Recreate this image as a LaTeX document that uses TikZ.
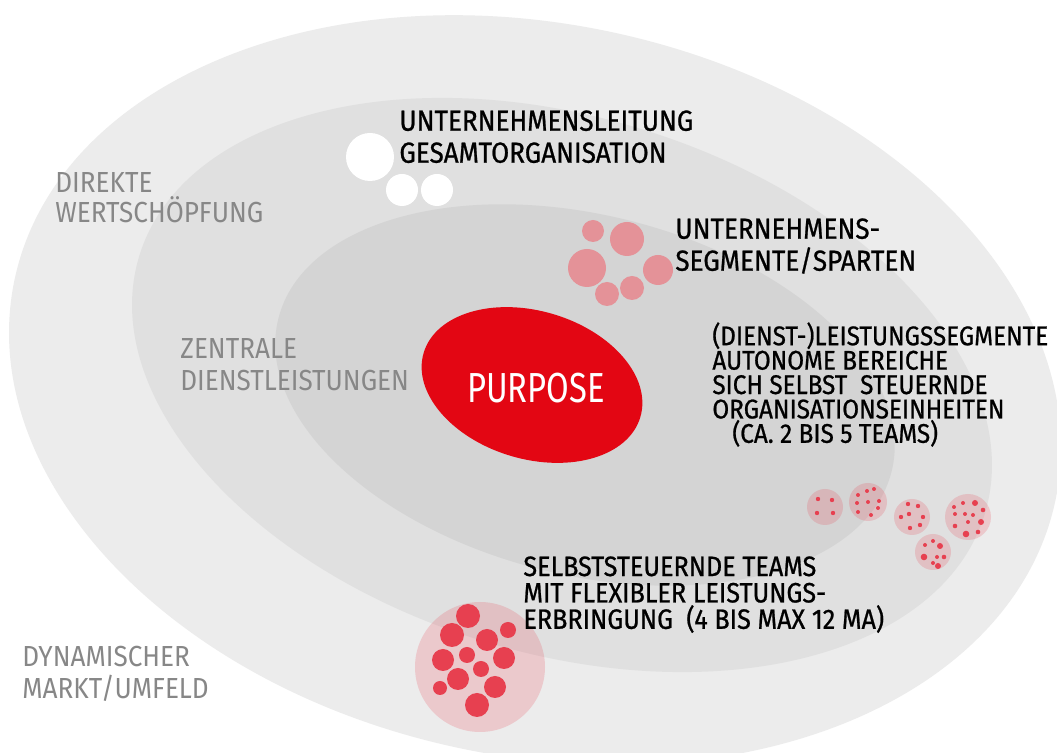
\documentclass[tikz,border=0pt]{standalone}
\usepackage{fontspec}
\setmainfont{Fira Sans}[FakeStretch=0.9]
\newfontfamily\markfont{Fira Sans}[FakeStretch=0.9,FakeBold=0.8]
\newfontfamily\purposefont{Fira Sans}[FakeStretch=0.78]
\definecolor{ringout}{RGB}{236,236,236}
\definecolor{ringmid}{RGB}{224,224,224}
\definecolor{ringin}{RGB}{212,212,212}
\definecolor{purposered}{RGB}{227,6,19}
\definecolor{segpink}{RGB}{228,146,152}
\definecolor{teamred}{RGB}{231,64,80}
\definecolor{labelgrey}{RGB}{135,135,135}
\newcommand\tightlines{\lineskiplimit-10pt\relax}

\begin{document}
\begin{tikzpicture}[x=0.5pt,y=-0.5pt,
  txt/.style={inner sep=0,anchor=north west,align=left,font=\markfont\fontsize{14.5}{16}\selectfont\tightlines},
  greytxt/.style={inner sep=0,anchor=north west,align=left,text=labelgrey,font=\fontsize{14.5}{16}\selectfont\tightlines},
  team/.style={fill=teamred,fill opacity=0.2}]
\useasboundingbox[fill=white] (0,0) rectangle (1057,753);
\fill[ringout,rotate around={-12:(535,390)}] (535,390) ellipse [x radius=532,y radius=366];
\fill[ringmid,rotate around={-17:(562,385)}] (562,385) ellipse [x radius=442,y radius=268];
\fill[ringin,rotate around={-14:(585,395)}] (585,395) ellipse [x radius=316,y radius=180];
\fill[purposered,rotate around={-16.5:(532,385)}] (532,385) ellipse [x radius=113,y radius=74];
\node[text=white,font=\purposefont\fontsize{21}{21}\selectfont] (purpose) at (536,388) {PURPOSE};

\foreach \x/\y/\r in {370/157/24,402/190/16,437/190/16}
  \fill[white] (\x,\y) circle [radius=\r];
\foreach \x/\y/\r in {593/231/11,627/239/17,587/268/19,658/270/15,607/294/12,632/288/12}
  \fill[segpink] (\x,\y) circle [radius=\r];

\foreach \x/\y/\r in {825/507/18,868/502/19,912/517/18,968/517/23,933/552/18,480/667/65}
  \fill[team] (\x,\y) circle [radius=\r];
\foreach \x/\y/\r in {818/499/2.2,832/500/2.2,817/513/2.2,833/513/2.2,
    858/495/2,867/491/2,874/489/2,857/503/2,868/502/2,879/501/2,858/512/2,871/515/2,878/508/2,
    908/504/2.2,918/506/2.2,901/517/2.2,909/514/2.2,923/517/2.2,910/528/2.2,920/525/2.2,
    954/507/2,963/503/2,975/503/3,955/514/2,965/514/2,973/515/2,983/510/2.3,968/522/2,981/522/3,955/526/2.3,966/534/3.3,978/532/2.3,
    925/545/2,933/541/2,940/546/3,924/557/3.3,937/557/2,944/557/2.3,933/563/2,938/566/3,
    468/616/12,452/635/12,487/640/11,508/630/8,443/660/11,467/655/8,504/658/11,481/669/8,458/679/11,440/688/7,495/687/11,477/705/12}
  \fill[teamred] (\x,\y) circle [radius=\r];

\node[txt] (leitung) at (399,110) {UNTERNEHMENSLEITUNG\\GESAMTORGANISATION};
\node[txt] (sparten) at (675,218) {UNTERNEHMENS-\\SEGMENTE/SPARTEN};
\node[txt,font=\markfont\fontsize{13.5}{12.2}\selectfont\tightlines] (segmente) at (712,322)
  {(DIENST-)LEISTUNGSSEGMENTE\\AUTONOME BEREICHE\\SICH SELBST\ \ STEUERNDE\\ORGANISATIONSEINHEITEN\\\hspace{10pt}(CA. 2 BIS 5 TEAMS)};
\node[txt,font=\markfont\fontsize{14}{13.2}\selectfont\tightlines] (teams) at (523,556)
  {SELBSTSTEUERNDE TEAMS\\MIT FLEXIBLER LEISTUNGS-\\ERBRINGUNG\ \ (4 BIS MAX 12 MA)};
\node[greytxt,font=\fontsize{14.5}{15}\selectfont\tightlines] (direkt) at (55,172) {DIREKTE\\WERTSCHÖPFUNG};
\node[greytxt] (zentral) at (180,338) {ZENTRALE\\DIENSTLEISTUNGEN};
\node[greytxt] (markt) at (22,646) {DYNAMISCHER\\MARKT/UMFELD};
\end{tikzpicture}
\end{document}
